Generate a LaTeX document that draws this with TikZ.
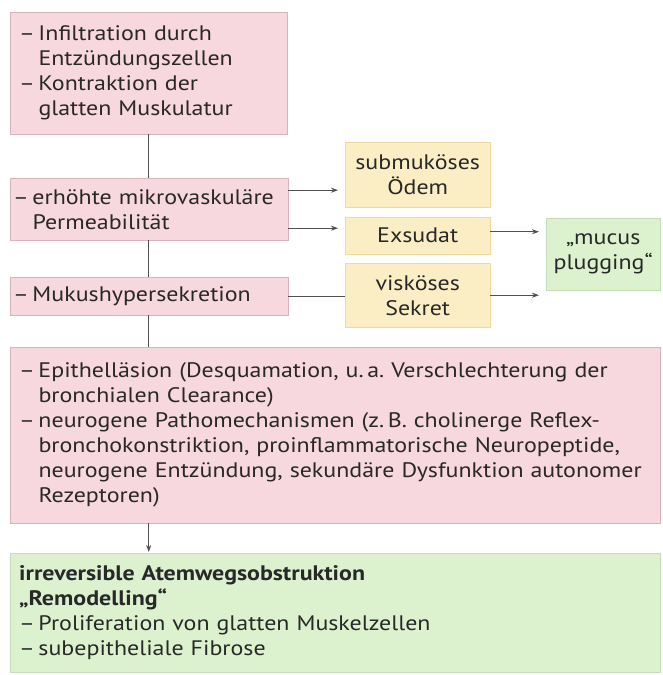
\documentclass[tikz,border=0pt]{standalone}
\usepackage{fontspec}
\setmainfont{PT Sans}[FakeStretch=1.14]
\usepackage{tikz}
\usetikzlibrary{arrows.meta,positioning,shapes}

\definecolor{rosa}{RGB}{247,216,222}
\definecolor{rosarand}{RGB}{214,180,188}
\definecolor{gelb}{RGB}{252,238,196}
\definecolor{gelbrand}{RGB}{236,218,160}
\definecolor{gruen}{RGB}{220,242,206}
\definecolor{gruenrand}{RGB}{196,222,180}
\definecolor{linie}{RGB}{80,80,80}
\definecolor{schrift}{RGB}{40,40,40}

\newcommand{\strich}{–\,}
\newcommand{\einzug}{\hphantom{–\,}}
\frenchspacing

\begin{document}
\begin{tikzpicture}[x=1pt,y=-1pt,
  box/.style={draw,anchor=north west,inner xsep=9pt,inner ysep=0pt,align=left,
    text=schrift,font=\fontsize{21}{25}\selectfont},
  pbox/.style={box,fill=rosa,draw=rosarand},
  ybox/.style={box,fill=gelb,draw=gelbrand,align=center,inner xsep=2pt,text width=141pt},
  gbox/.style={box,fill=gruen,draw=gruenrand},
  verb/.style={draw=linie,line width=.8pt},
  pfeil/.style={verb,-{Stealth[length=7pt,width=5pt]},shorten >=7pt}]

\useasboundingbox (0,0) rectangle (662,675);

% linke Spalte
\node[pbox,text width=259pt,minimum height=122pt] (n0) at (10,12)
  {\strich Infiltration durch\\\einzug Entzündungszellen\\\strich Kontraktion der\\\einzug glatten Muskulatur};
\node[pbox,inner xsep=3pt,text width=272pt,minimum height=62pt] (n1) at (10,178)
  {\mbox{\strich erhöhte mikrovaskuläre}\\\einzug Permeabilität};
\node[pbox,inner xsep=3pt,text width=272pt,minimum height=38pt] (n2) at (10,277)
  {\strich Mukushypersekretion};
\node[pbox,text width=632pt,minimum height=176pt] (n3) at (10,347)
  {\strich Epithelläsion (Desquamation, u.\,a. Verschlechterung der\\
   \einzug bronchialen Clearance)\\
   \strich neurogene Pathomechanismen (z.\,B. cholinerge Reflex-\\
   \einzug bronchokonstriktion, proinflammatorische Neuropeptide,\\
   \einzug neurogene Entzündung, sekundäre Dysfunktion autonomer\\
   \einzug Rezeptoren)};
\node[gbox,text width=632pt,minimum height=119pt] (n4) at (10,553)
  {\textbf{irreversible Atemwegsobstruktion}\\\textbf{„Remodelling“}\\
   \strich Proliferation von glatten Muskelzellen\\\strich subepitheliale Fibrose};

% mittlere und rechte Spalte
\node[ybox,minimum height=65pt] (n5) at (345,142) {submuköses\\Ödem};
\node[ybox,minimum height=37pt] (n6) at (345,217) {Exsudat};
\node[ybox,minimum height=64pt] (n7) at (345,263) {visköses\\Sekret};
\node[gbox,align=center,inner xsep=2pt,text width=110pt,minimum height=72pt] (n8) at (546,218) {„mucus\\plugging“};

\draw[verb] (n0.south) -- (n0.south |- n1.north);
\draw[verb] (n0.south |- n1.south) -- (n0.south |- n2.north);
\draw[verb] (n0.south |- n2.south) -- (n0.south |- n3.north);
\draw[pfeil,shorten >=1pt] (n0.south |- n3.south) -- (n0.south |- n4.north);
\draw[pfeil] ([yshift=19pt]n1.east) -- ([yshift=19pt]n1.east -| n5.west);
\draw[pfeil] ([yshift=-19pt]n1.east) -- ([yshift=-19pt]n1.east -| n6.west);
\draw[verb] (n2.east) -- (n2.east -| n7.west);
\draw[pfeil] ([yshift=4pt]n6.east) -- ([yshift=4pt]n6.east -| n8.west);
\draw[pfeil] (n7.east) -- (n7.east -| n8.west);
\end{tikzpicture}
\end{document}
